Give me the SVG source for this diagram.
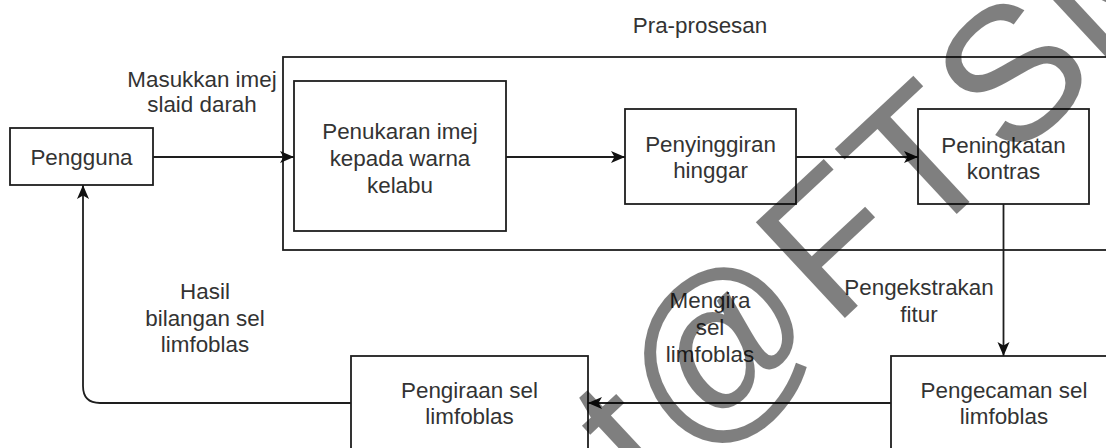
<svg xmlns="http://www.w3.org/2000/svg" width="1106" height="448" viewBox="0 0 1106 448">
  <style>
    .box { fill: #ffffff; stroke: #1e1e1e; stroke-width: 1.8; }
    .frame { fill: none; stroke: #1e1e1e; stroke-width: 1.8; }
    .edge { fill: none; stroke: #1e1e1e; stroke-width: 1.8; }
    .lbl { font-family: "Liberation Sans", Arial, sans-serif; font-size: 22.4px; fill: #333333; text-anchor: middle; }
    .wm { font-family: "Liberation Sans", Arial, sans-serif; font-size: 190px; fill: #000000; fill-opacity: 0.5; text-anchor: middle; }
  </style>
  <defs>
    <marker id="arrow" markerUnits="userSpaceOnUse" markerWidth="15" markerHeight="13" refX="14" refY="6" orient="auto">
      <path d="M0,0 L14,6 L0,12 L3.5,6 Z" fill="#111111"/>
    </marker>
  </defs>

  <rect width="1106" height="448" fill="#ffffff"/>

  <!-- pre-processing group frame -->
  <g id="praprosesan">
    <rect class="frame" x="283" y="57" width="850" height="193"/>
    <text class="lbl" x="700" y="33">Pra-prosesan</text>
  </g>

  <g id="pengguna">
    <rect class="box" x="10" y="128" width="143" height="57"/>
    <text class="lbl" x="81.5" y="165">Pengguna</text>
  </g>

  <g id="penukaran">
    <rect class="box" x="294" y="81" width="212" height="150"/>
    <text class="lbl" x="400" y="139">Penukaran imej</text>
    <text class="lbl" x="400" y="166">kepada warna</text>
    <text class="lbl" x="400" y="193">kelabu</text>
  </g>

  <g id="penyinggiran">
    <rect class="box" x="625" y="109" width="171" height="95"/>
    <text class="lbl" x="710.5" y="152">Penyinggiran</text>
    <text class="lbl" x="710.5" y="178">hinggar</text>
  </g>

  <g id="peningkatan">
    <rect class="box" x="918" y="109" width="171" height="95"/>
    <text class="lbl" x="1003.5" y="153">Peningkatan</text>
    <text class="lbl" x="1003.5" y="179">kontras</text>
  </g>

  <g id="pengecaman">
    <rect class="box" x="891" y="356" width="226" height="95"/>
    <text class="lbl" x="1004" y="398">Pengecaman sel</text>
    <text class="lbl" x="1004" y="424">limfoblas</text>
  </g>

  <g id="pengiraan">
    <rect class="box" x="351" y="356" width="237" height="95"/>
    <text class="lbl" x="469.5" y="398">Pengiraan sel</text>
    <text class="lbl" x="469.5" y="424">limfoblas</text>
  </g>

  <!-- connectors -->
  <g id="connectors">
    <path class="edge" d="M153,157 L294,157" marker-end="url(#arrow)"/>
    <path class="edge" d="M506,157 L625,157" marker-end="url(#arrow)"/>
    <path class="edge" d="M796,157 L918,157" marker-end="url(#arrow)"/>
    <path class="edge" d="M1003.5,204 L1003.5,356" marker-end="url(#arrow)"/>
    <path class="edge" d="M891,403 L588,403" marker-end="url(#arrow)"/>
    <path class="edge" d="M351,403 L100,403 Q83,403 83,386 L83,185" marker-end="url(#arrow)"/>
  </g>

  <!-- connector labels -->
  <g id="edge-labels">
    <text class="lbl" x="202" y="87">Masukkan imej</text>
    <text class="lbl" x="202" y="112">slaid darah</text>
    <text class="lbl" x="205" y="299">Hasil</text>
    <text class="lbl" x="205" y="326">bilangan sel</text>
    <text class="lbl" x="205" y="352">limfoblas</text>
    <text class="lbl" x="710" y="308">Mengira</text>
    <text class="lbl" x="710" y="335">sel</text>
    <text class="lbl" x="710" y="362">limfoblas</text>
    <text class="lbl" x="919" y="295">Pengekstrakan</text>
    <text class="lbl" x="919" y="322">fitur</text>
  </g>

  <!-- diagonal watermark, one glyph per chunk along a rotated baseline -->
  <g id="watermark">
    <text class="wm" x="20 148 305 424 552 695" y="0" transform="translate(653,497) rotate(-43)">t@FTSM</text>
  </g>
</svg>
